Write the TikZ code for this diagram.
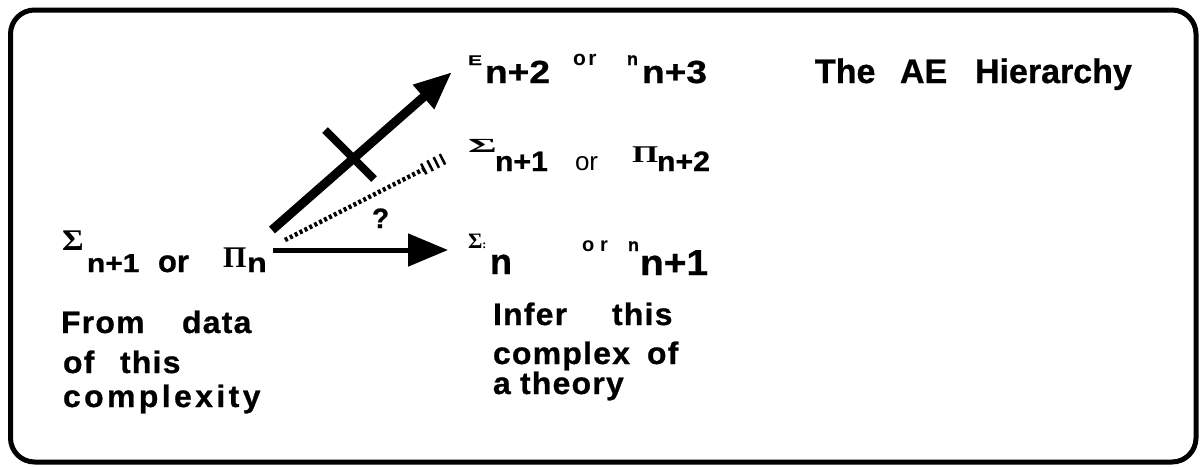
\documentclass[tikz,border=0pt]{standalone}
\usepackage{fontspec}
\usetikzlibrary{arrows.meta}
\setmainfont{Liberation Sans}
\newfontfamily\tz{Liberation Sans}[FakeBold=0.8]
\newfontfamily\tb{Liberation Sans}[FakeStretch=1.03,LetterSpace=4,FakeBold=0.8]
\newfontfamily\tbx{Liberation Sans}[FakeStretch=1.03,LetterSpace=11,FakeBold=0.8]
\newfontfamily\tsm{Liberation Sans}[LetterSpace=12]
\newfontfamily\tsp{Liberation Sans}[LetterSpace=30]
\newfontfamily\treg{Liberation Sans}
\newfontfamily\twa{Liberation Sans}[FakeStretch=1.16,FakeBold=0.8]
\newfontfamily\twb{Liberation Sans}[FakeStretch=1.08,FakeBold=0.8]
\newfontfamily\twc{Liberation Sans}[FakeStretch=1.15,FakeBold=0.8]
\newfontfamily\twd{Liberation Sans}[FakeStretch=1.2,FakeBold=0.8]
\newfontfamily\gk{Liberation Serif}
\newcommand{\fsz}[1]{\fontsize{#1}{#1}\selectfont}
\begin{document}
\begin{tikzpicture}[x=1pt,y=-1pt,
  lbl/.style={inner sep=0pt, outer sep=0pt, anchor=base west},
  frame/.style={line width=5pt, rounded corners=24pt},
  solidarrow/.style={line width=5pt, -{Triangle[length=40pt,width=32pt]}},
  bigarrow/.style={line width=9pt, -{Triangle[length=38pt,width=30pt]}},
  crossbar/.style={line width=8pt},
  dotline/.style={line width=4.5pt, dash pattern=on 3pt off 2.5pt},
  hatch/.style={line width=2.5pt}]
\useasboundingbox (0,0) rectangle (1202,466);
\draw[frame] (10.5,10) rectangle (1196,462);

% title
\node[lbl] (t1) at (815,83) {\tz\bfseries\fsz{34}The};
\node[lbl] (t2) at (900,83) {\tz\bfseries\fsz{34}AE};
\node[lbl] (t3) at (975,83) {\tz\bfseries\fsz{34}Hierarchy};

% source label
\node[lbl] (sSig) at (62,250) {\scalebox{1.1}[1]{\gk\bfseries\fsz{30}Σ}};
\node[lbl] (sN1) at (87,272) {\twc\bfseries\fsz{26}n+1};
\node[lbl] (sOr) at (158,272) {\tz\bfseries\fsz{31}or};
\node[lbl] (sPi) at (223,267) {\gk\bfseries\fsz{30}Π};
\node[lbl] (sN) at (247,272) {\twd\bfseries\fsz{27}n};

% row 1
\node[lbl] (aE) at (468,65) {\scalebox{1.5}[1]{\tz\bfseries\fsz{14}E}};
\node[lbl] (aN2) at (485,83) {\twa\bfseries\fsz{32}n+2};
\node[lbl] (aOr) at (573,65) {\tsm\bfseries\fsz{21}or};
\node[lbl] (aN) at (627,65) {\tz\bfseries\fsz{18}n};
\node[lbl] (aN3) at (642,83) {\twa\bfseries\fsz{32}n+3};

% row 2
\node[lbl] (bSig) at (468,152) {\scalebox{2.2}[1]{\gk\bfseries\fsz{20}Σ}};
\node[lbl] (bN1) at (495,171) {\twb\bfseries\fsz{28}n+1};
\node[lbl] (bOr) at (575,170) {\treg\fsz{26}or};
\node[lbl] (bPi) at (632,162) {\scalebox{1.4}[1]{\gk\bfseries\fsz{24}Π}};
\node[lbl] (bN2) at (657,171) {\twb\bfseries\fsz{28}n+2};

% row 3
\node[lbl] (cSig) at (468,248) {\gk\bfseries\fsz{22}Σ\fsz{12}:};
\node[lbl] (cN) at (490,274) {\tz\bfseries\fsz{36}n};
\node[lbl] (cOr) at (582,251) {\tsp\bfseries\fsz{20}or};
\node[lbl] (cNs) at (628,251) {\tz\bfseries\fsz{18}n};
\node[lbl] (cN1) at (640,275) {\twb\bfseries\fsz{36}n+1};

% question mark
\node[lbl] (q) at (372,228) {\tz\bfseries\fsz{28}?};

% lower left text
\node[lbl] (l1) at (61,333) {\tb\bfseries\fsz{31}From};
\node[lbl] (l2) at (182,333) {\tb\bfseries\fsz{31}data};
\node[lbl] (l3) at (63,373) {\tb\bfseries\fsz{31}of};
\node[lbl] (l4) at (120,373) {\tb\bfseries\fsz{31}this};
\node[lbl] (l5) at (63,407) {\tbx\bfseries\fsz{31}complexity};

% lower middle text
\node[lbl] (m1) at (493,325) {\tb\bfseries\fsz{31}Infer};
\node[lbl] (m2) at (612,325) {\tb\bfseries\fsz{31}this};
\node[lbl] (m3) at (493,364) {\tb\bfseries\fsz{31}complex};
\node[lbl] (m4) at (647,364) {\tb\bfseries\fsz{31}of};
\node[lbl] (m5) at (493,394) {\tb\bfseries\fsz{31}a};
\node[lbl] (m6) at (520,394) {\tb\bfseries\fsz{31}theory};

% connectors
\coordinate (hS) at (273,250);
\coordinate (hE) at (448,250);
\coordinate (bS) at (272,230);
\coordinate (bE) at (452,72);
\coordinate (xA) at (325,130);
\coordinate (xB) at (374,179);
\coordinate (dS) at (285,240);
\coordinate (dE) at (424,169);

\draw[solidarrow] (hS) -- (hE);
\draw[bigarrow] (bS) -- (bE);
\draw[crossbar] (xA) -- (xB);
\draw[dotline] (dS) -- (dE);
\draw[hatch] (421.1,163.6) -- (426.5,174.2)
             (427.4,160.4) -- (432.8,171.0)
             (433.6,157.2) -- (439.0,167.8)
             (439.8,154.0) -- (445.2,164.6);
\end{tikzpicture}
\end{document}
